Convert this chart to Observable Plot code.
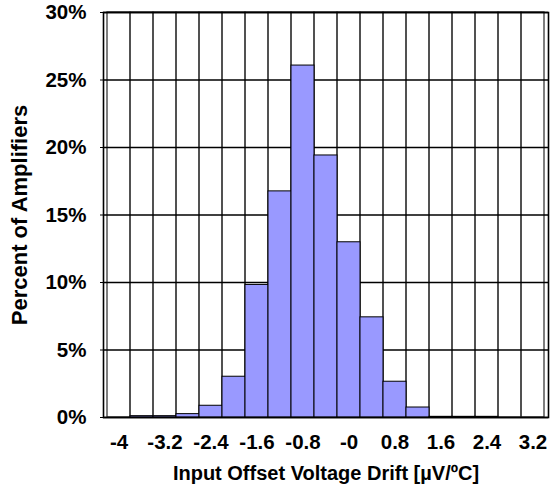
<!DOCTYPE html>
<html>
<head>
<meta charset="utf-8">
<script src="https://cdn.jsdelivr.net/npm/d3@7"></script>
<script src="https://cdn.jsdelivr.net/npm/@observablehq/plot@0.6"></script>
<style>
  html, body { margin: 0; padding: 0; background: #fff; }
</style>
</head>
<body>
<div id="chart"></div>
<script>
// Bin categories (µV/ºC), bin width 0.4
const categories = ["-4","-3.6","-3.2","-2.8","-2.4","-2","-1.6","-1.2","-0.8","-0.4","-0","0.4","0.8","1.2","1.6","2","2.4","2.8","3.2"];
// Percent of amplifiers in each bin
const percents = [0, 0.1, 0.1, 0.25, 0.87, 3.02, 9.82, 16.75, 26.07, 19.41, 12.98, 7.42, 2.65, 0.74, 0.05, 0.05, 0.05, 0, 0];
// Tick labels shown on the x axis
const xTickLabels = ["-4","-3.2","-2.4","-1.6","-0.8","-0","0.8","1.6","2.4","3.2"];
// Y ticks (percent)
const yTicks = [0, 5, 10, 15, 20, 25, 30];

const data = categories.map((c, i) => ({bin: c, pct: percents[i]}));
const yMax = yTicks[yTicks.length - 1];

const font = "'Liberation Sans', Arial, sans-serif";

const chart = Plot.plot({
  width: 557,
  height: 491,
  marginLeft: 103,
  marginRight: 9,
  marginTop: 12,
  marginBottom: 74,
  style: {fontFamily: font, fontWeight: "bold", fontSize: "20px", color: "#000", background: "#fff"},
  x: {type: "band", domain: categories, padding: 0},
  y: {domain: [0, yMax]},
  marks: [
    // vertical grid: one outlined column per bin
    Plot.barY(categories, {x: d => d, y: yMax, fill: "none", stroke: "#3a3a3a", strokeWidth: 1.3, inset: 0}),
    // horizontal grid
    Plot.ruleY(yTicks, {stroke: "#000", strokeWidth: 1.3}),
    // histogram bars
    Plot.barY(data, {x: "bin", y: "pct", fill: "#9999ff", stroke: "#000", strokeWidth: 1, inset: 0}),
    Plot.frame({stroke: "#000", strokeWidth: 1.6}),
    Plot.axisX({
      ticks: xTickLabels, tickSize: 0, tickPadding: 17,
      fontSize: 20.5, fontWeight: "bold",
      label: null
    }),
    Plot.axisX({
      ticks: [], tickSize: 0,
      fontSize: 20, fontWeight: "bold",
      label: "Input Offset Voltage Drift [µV/ºC]", labelAnchor: "center", labelArrow: "none", labelOffset: 62
    }),
    Plot.axisY({
      ticks: yTicks, tickFormat: d => d + "%", tickSize: 3, tickPadding: 14,
      fontSize: 20.5, fontWeight: "bold",
      label: null
    }),
    Plot.axisY({
      ticks: [], tickSize: 0,
      fontSize: 22, fontWeight: "bold",
      label: "Percent of Amplifiers", labelAnchor: "center", labelArrow: "none", labelOffset: 92
    })
  ]
});
document.getElementById("chart").appendChild(chart);
</script>
</body>
</html>
